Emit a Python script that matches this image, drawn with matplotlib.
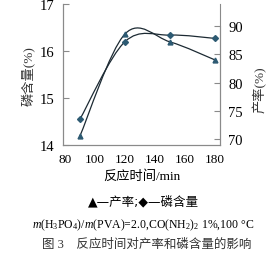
import numpy as np
import matplotlib
matplotlib.use("Agg")
import matplotlib.pyplot as plt
from matplotlib.path import Path
from matplotlib.patches import PathPatch

plt.rcParams['font.family'] = ['Liberation Serif', 'Noto Sans CJK SC']
plt.rcParams['mathtext.fontset'] = 'custom'
plt.rcParams['mathtext.rm'] = 'Liberation Serif'
plt.rcParams['mathtext.it'] = 'Liberation Serif:italic'

# datos
tiempo = [90, 120, 150, 180]
fosforo = [14.55, 16.2, 16.34, 16.27]   # eje izquierdo, rombos
rendimiento = [70.5, 88.6, 87.2, 84.0]   # eje derecho, triangulos

linea = '#1c2a33'
marca = '#2d5a72'
gris = '#8a8a8a'


def curva_suave(ax, xs, ys, **kw):
    # curva tipo "linea suavizada" con beziers, los puntos son los datos
    pts = np.column_stack([xs, ys]).astype(float)
    p = np.vstack([pts[0], pts, pts[-1]])
    verts = [tuple(pts[0])]
    codes = [Path.MOVETO]
    for i in range(1, len(p) - 2):
        c1 = p[i] + (p[i + 1] - p[i - 1]) / 6
        c2 = p[i + 1] - (p[i + 2] - p[i]) / 6
        verts += [tuple(c1), tuple(c2), tuple(p[i + 1])]
        codes += [Path.CURVE4] * 3
    ax.add_patch(PathPatch(Path(verts, codes), fill=False, **kw))


fig = plt.figure(figsize=(2.76, 2.55), dpi=100)
ax = fig.add_axes([0.228, 0.427, 0.569, 0.553])
ax2 = ax.twinx()

curva_suave(ax, tiempo, fosforo, edgecolor=linea, lw=0.9)
ax.plot(tiempo, fosforo, ls='none', marker='D', ms=3, color=marca)
curva_suave(ax2, tiempo, rendimiento, edgecolor=linea, lw=0.9)
ax2.plot(tiempo, rendimiento, ls='none', marker='^', ms=3.5, color=marca)

ax.set_xlim(78.7, 183.3)
ax.set_ylim(14, 17)
ax2.set_ylim(68.9, 93.9)
ax.set_xticks([80, 100, 120, 140, 160, 180])
ax.set_yticks([14, 15, 16, 17])
ax2.set_yticks([70, 75, 80, 85, 90])

for a in (ax, ax2):
    a.spines['top'].set_visible(False)
    for s in a.spines.values():
        s.set_color(gris)
        s.set_linewidth(0.8)
ax.spines['left'].set_bounds(14, 17)
ax2.spines['right'].set_bounds(68.9, 90)
ax.tick_params(axis='y', direction='in', length=4, color=gris, labelsize=10.5, pad=6)
ax.tick_params(axis='x', length=0, labelsize=9.5, pad=6)
ax2.tick_params(axis='y', direction='in', length=4, color=gris, labelsize=10.5, pad=6)

ax.set_ylabel('磷含量(%)', fontsize=9.5, color='#333333', labelpad=3)
ax2.set_ylabel('产率(%)', fontsize=9.5, color='#333333')
ax2.yaxis.set_label_coords(1.21, 0.40)
ax.set_xlabel('反应时间/min', fontsize=9.5, labelpad=3)

fig.text(0.52, 0.208, '▲—产率;◆—磷含量', ha='center', va='center', fontsize=9,
         family=['DejaVu Sans', 'Noto Sans CJK SC'])
fig.text(0.52, 0.118, r'$m$(H$_3$PO$_4$)/$m$(PVA)=2.0,CO(NH$_2$)$_2$ 1%,100 °C',
         ha='center', va='center', fontsize=8.5)
fig.text(0.53, 0.04, '图 3　反应时间对产率和磷含量的影响', ha='center', va='center',
         fontsize=9, color='#333333')

fig.savefig('out.png', dpi=100)
